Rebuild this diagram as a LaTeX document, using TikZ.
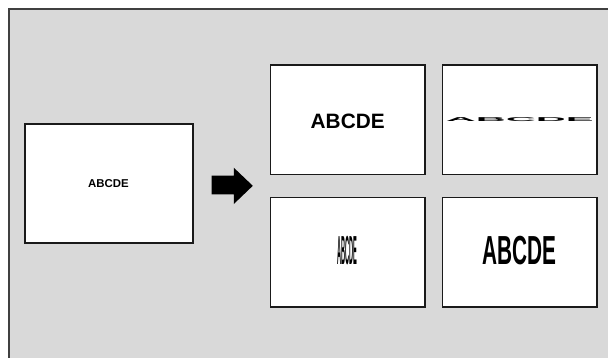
\documentclass[tikz,border=0pt]{standalone}
\usepackage{fontspec}
\setmainfont{Liberation Sans}
\usepackage{graphicx}
\definecolor{bggray}{HTML}{D9D9D9}
\definecolor{framegray}{HTML}{404040}
\definecolor{boxline}{HTML}{1A1A1A}
\begin{document}
\begin{tikzpicture}[x=1pt,y=-1pt,
  bigbox/.style={draw=boxline,fill=white,line width=2pt,minimum width=168pt,minimum height=119pt,inner sep=0pt,font=\bfseries\fontsize{11.4}{13}\selectfont},
  smallbox/.style={draw=boxline,fill=white,line width=1.4pt,minimum width=154.5pt,minimum height=109.5pt,inner sep=0pt,font=\bfseries\fontsize{20.8}{24}\selectfont},
  txt/.style={inner sep=0pt,font=\bfseries\fontsize{20.8}{24}\selectfont}]
\useasboundingbox (0,0) rectangle (608,357);
\clip (0,0) rectangle (608,357);
\fill[white] (0,0) rectangle (608,357);
\draw[framegray,fill=bggray,line width=2pt] (9,9) rectangle (640,400);
\node[bigbox] (src) at (108.5,183.8) {ABCDE};
\fill[black] (211.7,175.7) -- (233.8,175.7) -- (233.8,167.7) -- (252.8,185.8) -- (233.8,204) -- (233.8,194.3) -- (211.7,194.3) -- cycle;
\node[smallbox] (tl) at (347.7,119.7) {};
\node[smallbox] (tr) at (519.8,119.7) {};
\node[smallbox] (bl) at (347.7,252.2) {};
\node[smallbox] (br) at (519.8,252.2) {};
\node[txt] (ttl) at ([yshift=-2pt]tl.center) {ABCDE};
\node[txt] (ttr) at (tr) {\scalebox{2.0}[0.27]{ABCDE}};
\node[txt] (tbl) at ([yshift=2pt]bl.center) {\scalebox{0.27}[1.95]{ABCDE}};
\node[txt] (tbr) at ([yshift=2pt]br.center) {\scalebox{1.0}[1.95]{ABCDE}};
\end{tikzpicture}
\end{document}
